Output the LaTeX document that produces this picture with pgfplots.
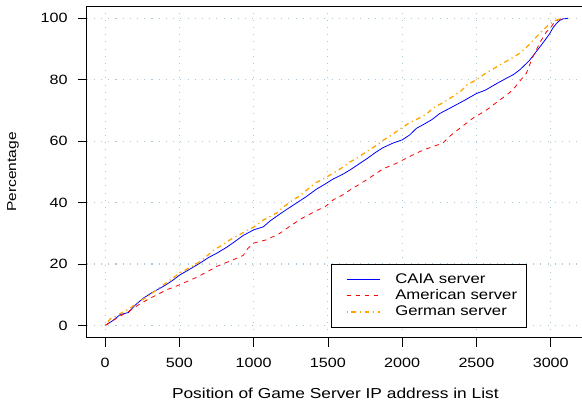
\documentclass[border=0pt]{standalone}
\usepackage{fontspec}
\setmainfont{Liberation Sans}[FakeStretch=1.2]
\usepackage{pgfplots}
\pgfplotsset{compat=1.18}
\definecolor{gridc}{RGB}{170,200,215}
\definecolor{rblue}{RGB}{0,0,255}
\definecolor{rred}{RGB}{255,0,0}
\definecolor{rorange}{RGB}{255,165,0}
\tikzset{
  caia/.style={draw=rblue, color=rblue, line width=0.8bp},
  amer/.style={draw=rred, color=rred, line width=0.8bp, dash pattern=on 4.5bp off 4.5bp},
  germ/.style={draw=rorange, color=rorange, line width=1.3bp, dash pattern=on 1.2bp off 3.6bp on 4.8bp off 3.6bp},
}
\begin{document}
\begin{tikzpicture}
\begin{axis}[
  scale only axis, width=497.3bp, height=331.7bp,
  xmin=-124, xmax=3224, ymin=-4, ymax=104,
  xtick={0,500,...,3000}, ytick={0,20,...,100},
  xtick pos=bottom, ytick pos=left,
  tick align=outside, major tick length=9bp,
  tick style={black, line width=0.8bp},
  axis line style={black, line width=0.8bp},
  grid=major, grid style={gridc, line width=1.1bp, dash pattern=on 1.1bp off 6.1bp},
  /pgf/number format/assume math mode=true,
  /pgf/number format/1000 sep={},
  tick label style={font=\fontsize{13.5}{16}\selectfont},
  xticklabel style={inner sep=0pt, anchor=north, yshift=-11bp},
  yticklabel style={inner sep=0pt, anchor=east, xshift=-10bp},
  xlabel={Position of Game Server IP address in List},
  ylabel={Percentage},
  xlabel style={at={(axis description cs:0.5,-0.1667)}, anchor=center, font=\fontsize{14.5}{16}\selectfont},
  ylabel style={at={(axis description cs:-0.148,0.5)}, anchor=center, rotate=0, font=\fontsize{13}{15}\selectfont},
  legend style={name=leg, at={(axis description cs:0.884,0.030)}, anchor=south east,
    draw=none, fill=white, inner xsep=9bp, inner ysep=7.7bp,
    column sep=0pt, font=\fontsize{14}{16}\selectfont,
    nodes={inner xsep=0pt, inner ysep=1bp, text height=10.5bp, text depth=3.5bp}},
  legend cell align=left,
]
\addplot[caia, forget plot] coordinates {
(0,0) (50,1.5) (101,3.5) (157,4.2) (200,6.5) (258,8.9) (320,10.8) (392,12.7) (450,14.5) (505,16.5)
(570,18.3) (639,20.3) (700,22.2) (751,23.5) (820,25.5) (870,27.2) (930,29.3) (1000,31.1) (1065,32.1)
(1110,34.0) (1177,36.3) (1230,38.0) (1290,39.9) (1350,41.8) (1424,44.4) (1480,46.0) (1536,47.7)
(1600,49.2) (1648,50.6) (1710,52.6) (1760,54.2) (1820,56.3) (1872,57.9) (1940,59.4) (2000,60.4)
(2050,62.0) (2097,64.2) (2150,65.6) (2200,67.0) (2253,69.0) (2300,70.2) (2343,71.3) (2420,73.3)
(2500,75.5) (2560,76.6) (2620,78.3) (2702,80.5) (2750,81.7) (2791,83.2) (2830,85.0) (2859,86.4)
(2900,89.0) (2926,90.6) (2960,92.8) (2993,95.0) (3015,96.9) (3038,98.3) (3060,99.3) (3083,99.8) (3117,100)
};
\addplot[amer, forget plot] coordinates {
(0,0) (50,1.5) (100,3.0) (157,4.5) (235,7.0) (300,8.8) (415,11.6) (500,13.2) (617,15.7) (700,17.8)
(751,19.2) (863,21.4) (930,22.8) (960,25.0) (1000,26.8) (1088,27.9) (1177,30.0) (1250,32.5)
(1330,35.0) (1424,37.4) (1480,38.6) (1536,40.9) (1600,42.5) (1648,44.1) (1700,45.6) (1760,47.4)
(1872,51.0) (1962,52.8) (2050,55.0) (2141,57.1) (2230,58.6) (2276,59.5) (2330,62.0) (2388,64.2)
(2477,67.5) (2567,70.1) (2635,72.6) (2702,75.0) (2747,76.8) (2791,79.5) (2836,82.1) (2859,85.0)
(2881,87.5) (2926,92.0) (2971,95.6) (2993,96.5) (3027,98.9) (3060,99.7) (3083,100)
};
\addplot[germ, forget plot] coordinates {
(0,0) (34,2.1) (100,3.8) (168,5.6) (220,7.5) (280,9.2) (392,13.2) (450,15.2) (505,17.2) (570,18.8)
(639,20.8) (690,22.8) (729,24.5) (790,26.2) (841,27.9) (900,29.4) (953,30.8) (1000,32.0) (1065,34.3)
(1155,36.6) (1199,38.5) (1267,40.9) (1312,42.2) (1370,44.6) (1424,46.6) (1480,48.0) (1536,49.6)
(1600,51.5) (1648,53.2) (1700,54.6) (1760,56.6) (1820,58.4) (1872,60.3) (1930,62.0) (1984,63.9)
(2050,66.0) (2119,67.6) (2164,68.8) (2208,70.8) (2270,72.4) (2343,74.6) (2400,76.5) (2433,78.2)
(2500,80.0) (2567,82.3) (2620,83.7) (2657,84.8) (2720,86.5) (2791,88.6) (2840,90.7) (2881,92.8)
(2930,95.3) (2971,97.2) (3015,98.9) (3050,99.6) (3083,100)
};
\addlegendimage{legend image code/.code={\path[draw=none] (0bp,0bp) -- (55bp,0bp); \draw[caia, line width=1.1bp] (6.3bp,0bp) -- (39.3bp,0bp);}}
\addlegendentry{CAIA server}
\addlegendimage{legend image code/.code={\path[draw=none] (0bp,0bp) -- (55bp,0bp); \draw[amer, line width=1.1bp] (6.3bp,0bp) -- (39.3bp,0bp);}}
\addlegendentry{American server}
\addlegendimage{legend image code/.code={\path[draw=none] (0bp,0bp) -- (55bp,0bp); \draw[germ] (6.3bp,0bp) -- (39.3bp,0bp);}}
\addlegendentry{German server}
\end{axis}
\draw[black, line width=0.8bp] (leg.south west) rectangle (leg.north east);
\pgfresetboundingbox
\useasboundingbox ([shift={(-86.7bp,-66.3bp)}]current axis.south west) rectangle ++(582bp,404bp);
\end{tikzpicture}
\end{document}
